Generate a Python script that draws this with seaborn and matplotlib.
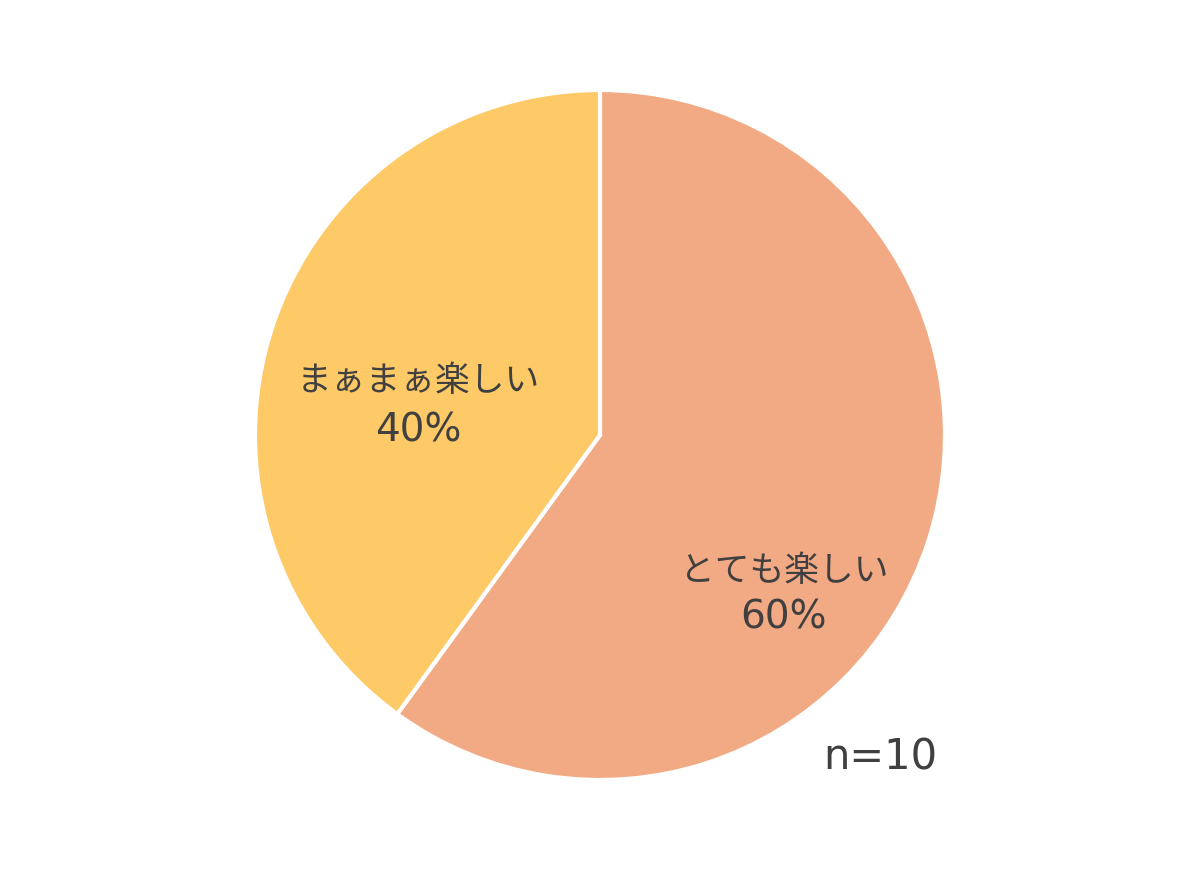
import seaborn as sns
import matplotlib.pyplot as plt

# data
categories = ['とても楽しい', 'まぁまぁ楽しい']
shares = [60, 40]
colors = ['#F2AA84', '#FECA67']
n_total = 10

sns.set_theme(style='white')
plt.rcParams['font.family'] = ['Noto Sans CJK JP', 'DejaVu Sans']

fig = plt.figure(figsize=(12, 8.71), dpi=100)
ax = fig.add_axes([255 / 1200, 91 / 871, 690 / 1200, 690 / 871])

wedges, _ = ax.pie(shares, colors=colors, startangle=90, counterclock=False,
                   radius=1, wedgeprops=dict(edgecolor='white', linewidth=3))
ax.set_xlim(-1, 1)
ax.set_ylim(-1, 1)
ax.set_aspect('equal')
ax.axis('off')

txt_color = '#404040'
# label centres (name line, percent line) in data units
label_pos = [(0.533, -0.395, -0.530), (-0.528, 0.155, 0.012)]
for cat, val, (x, y1, y2) in zip(categories, shares, label_pos):
    ax.text(x, y1, cat, ha='center', va='center', fontsize=25,
            color=txt_color)
    ax.text(x, y2, f'{val}%', ha='center', va='center', fontsize=28,
            color=txt_color, family='DejaVu Sans')

fig.text(937 / 1200, 1 - 757 / 871, f'n={n_total}', ha='right', va='center',
         fontsize=30, color=txt_color, family='DejaVu Sans')

fig.savefig('out.png', dpi=100, facecolor='white')
